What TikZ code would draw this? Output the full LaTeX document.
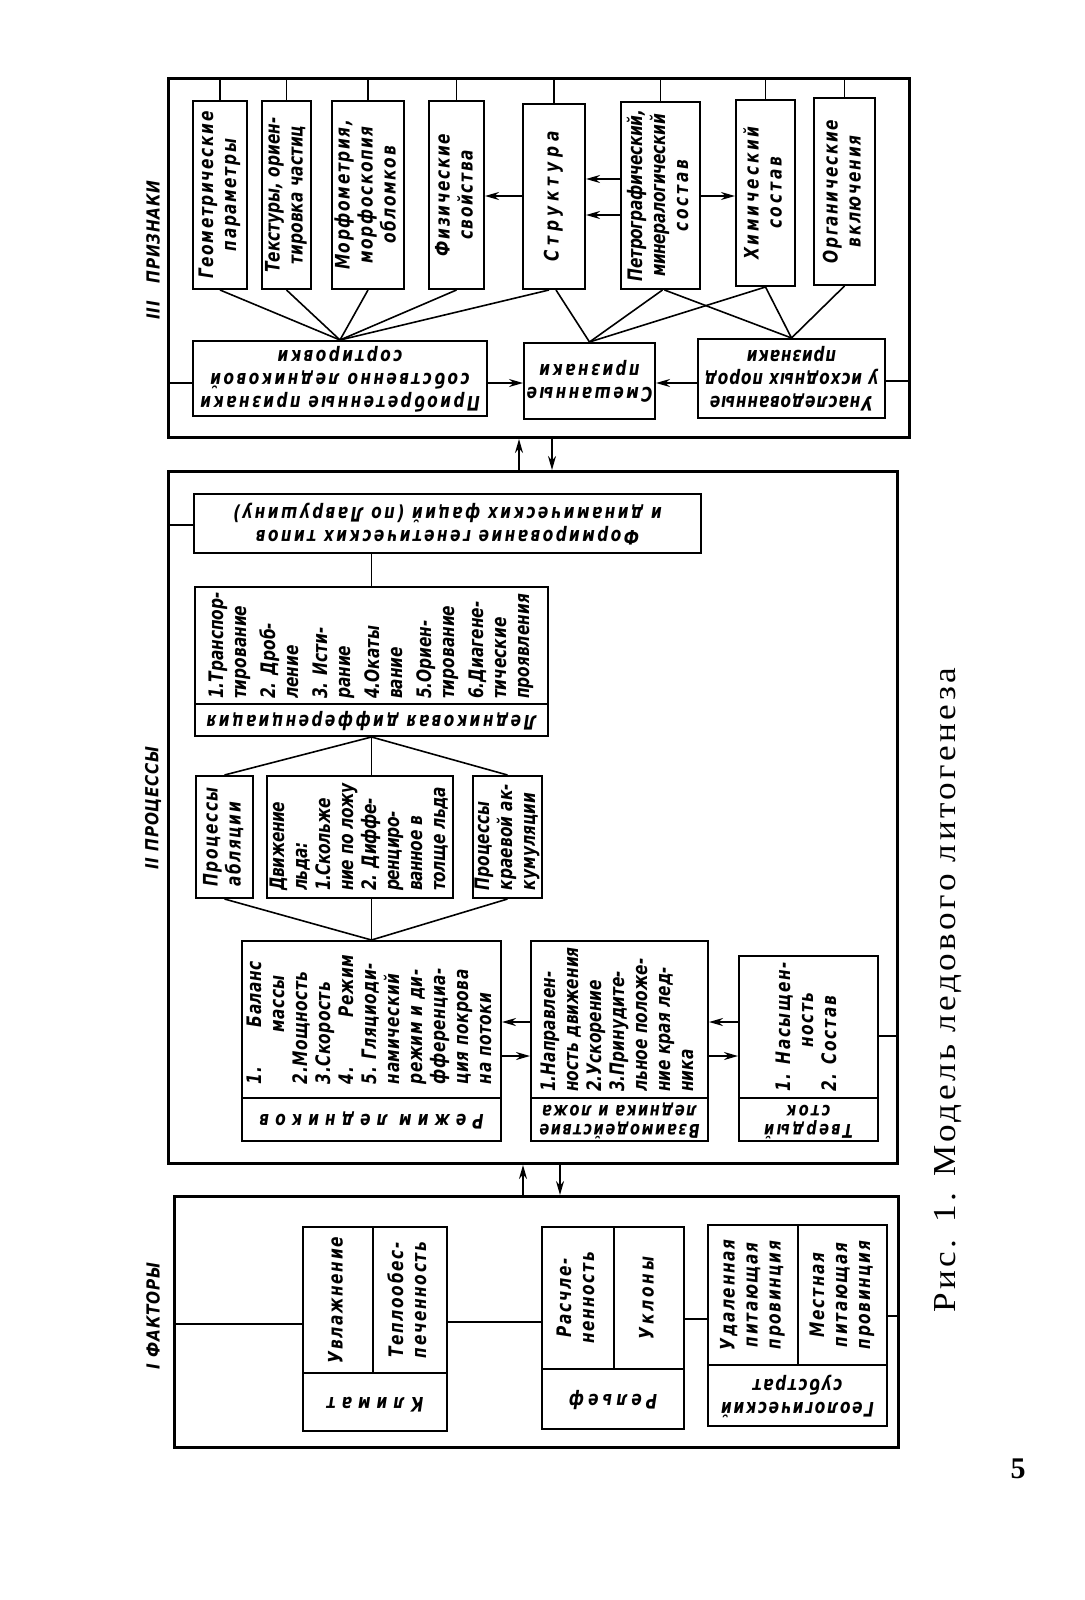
\documentclass[tikz,border=0pt]{standalone}
\usepackage{graphicx}
\usepackage{fontspec}
\setmainfont{Liberation Serif}
\newfontfamily\df{DejaVu Sans}[FakeStretch=0.77, LetterSpace=8]
\newfontfamily\dfb{DejaVu Sans}[FakeStretch=0.85, LetterSpace=4]
\newfontfamily\capfont{Liberation Serif}[FakeStretch=1.1, LetterSpace=11]
\usetikzlibrary{arrows.meta,calc}
\newcommand\vt[1]{\rotatebox{90}{\begin{tabular}{@{}c@{}}#1\end{tabular}}}
\newcommand\vl[1]{\rotatebox{90}{\begin{tabular}{@{}l@{}}#1\end{tabular}}}
\newcommand\ut[1]{\rotatebox{180}{\begin{tabular}{@{}c@{}}#1\end{tabular}}}
\newcommand\ls[1]{\addfontfeature{LetterSpace=#1}}
\tikzset{
  bx/.style={draw, line width=1pt, inner sep=0pt, font=\df\bfseries\itshape\fontsize{10}{11.5}\selectfont},
  sec/.style={draw, line width=1.5pt, inner sep=0pt},
  ln/.style={line width=0.8pt},
  arr/.style={line width=0.9pt, -{Stealth[length=7pt,width=4pt]}},
  seclab/.style={font=\dfb\bfseries\itshape\fontsize{9}{11}\selectfont, inner sep=0pt}
}
\newcommand\mybox[6]{\node[bx, minimum width={(#4-#2)*0.5pt}, minimum height={(#5-#3)*0.5pt}, anchor=north west] (#1) at (#2,#3) {#6};}
\newcommand\mysec[5]{\node[sec, minimum width={(#4-#2)*0.5pt}, minimum height={(#5-#3)*0.5pt}, anchor=north west] (#1) at (#2,#3) {};}
\begin{document}
\begin{tikzpicture}[x=0.5pt,y=-0.5pt]
\fill[white] (0,0) rectangle (1085,1600);
\useasboundingbox (0,0) rectangle (1085,1600);
% ---------- III
\mysec{box3}{167}{77}{908}{436}
\mybox{geo}{192}{100}{246}{288}{\vt{Геометрические\\параметры}}
\mybox{tex}{261}{100}{310}{288}{\ls{0}\vt{Текстуры, ориен-\\тировка частиц}}
\mybox{morf}{331}{100}{403}{288}{\vt{Морфометрия,\\морфоскопия\\обломков}}
\mybox{fiz}{428}{100}{483}{288}{\vt{Физические\\свойства}}
\mybox{str}{522}{103}{584}{288}{\ls{24}\vt{Структура}}
\mybox{petr}{620}{101}{699}{288}{\ls{-2}\vt{Петрографический,\\минералогический\\\ls{14}состав}}
\mybox{chem}{735}{99}{794}{285}{\ls{14}\vt{Химический\\состав}}
\mybox{org}{813}{97}{874}{284}{\vt{Органические\\включения}}
\mybox{acq}{192}{340}{486}{415}{\ls{12}\ut{Приобретенные признаки\\собственно ледниковой\\сортировки}}
\mybox{mix}{523}{342}{654}{418}{\ls{12}\ut{Смешанные\\признаки}}
\mybox{inh}{697}{338}{884}{417}{\ls{4}\ut{Унаследованные\\у исходных пород\\признаки}}
\foreach \n in {geo,tex,morf,fiz,str,petr,chem,org} \draw[ln] (\n.north) -- (\n.north |- box3.north);
\foreach \n in {geo,tex,morf,fiz} \draw[ln] (\n.south) -- (acq.north);
\draw[ln] ($(str.south)+(-5,0)$) -- (acq.north);
\draw[ln] ($(str.south)+(2,0)$) -- (mix.north);
\draw[ln] ($(petr.south)+(2,0)$) -- (mix.north);
\draw[ln] ($(petr.south)+(4,0)$) -- (inh.north);
\draw[ln] (chem.south) -- (mix.north);
\draw[ln] (chem.south) -- (inh.north);
\draw[ln] (org.south) -- (inh.north);
\coordinate (h1) at (0,383);
\coordinate (h1b) at (0,381);
\coordinate (h2) at (0,196);
\coordinate (h3) at (0,179);
\coordinate (h4) at (0,215);
\draw[ln] (h1 -| box3.west) -- (h1 -| acq.west);
\draw[arr] (h1 -| acq.east) -- (h1 -| mix.west);
\draw[arr] (h1 -| inh.west) -- (h1 -| mix.east);
\draw[ln] (h1b -| inh.east) -- (h1b -| box3.east);
\draw[arr] (h2 -| str.west) -- (h2 -| fiz.east);
\draw[arr] (h2 -| petr.east) -- (h2 -| chem.west);
\draw[arr] (h3 -| petr.west) -- (h3 -| str.east);
\draw[arr] (h4 -| petr.west) -- (h4 -| str.east);
% ---------- II
\mysec{box2}{167}{470}{896}{1162}
\coordinate (v1) at (519,0);
\coordinate (v2) at (552,0);
\draw[arr] (v1 |- box2.north) -- (v1 |- box3.south);
\draw[arr] (v2 |- box3.south) -- (v2 |- box2.north);
\mybox{form}{193}{493}{700}{552}{\ls{12}\ut{Формирование генетических типов\\и динамических фаций (по Лаврушину)}}
\coordinate (h5) at (0,525);
\draw[ln] (h5 -| box2.west) -- (h5 -| form.west);
\mybox{ldl}{194}{586}{547}{703}{\ls{0}\vl{1.Транспор-\\тирование\\[3pt]2. Дроб-\\ление\\[3pt]3. Исти-\\рание\\[3pt]4.Окаты\\вание\\[3pt]5.Ориен-\\тирование\\[3pt]6.Диагене-\\тические\\проявления}}
\mybox{ldt}{194}{703}{547}{735}{\ls{12}\ut{Ледниковая дифференциация}}
\draw[ln] (ldl.north) -- (ldl.north |- form.south);
\mybox{abl}{195}{775}{252}{897}{\vl{Процессы\\абляции}}
\mybox{dv}{266}{775}{452}{897}{\ls{-2}\vl{Движение\\льда:\\1.Скольже\\ние по ложу\\2. Диффе-\\ренциро-\\ванное в\\толще льда}}
\mybox{kr}{472}{775}{541}{897}{\ls{0}\vl{Процессы\\краевой ак-\\кумуляции}}
\draw[ln] (ldt.south) -- (abl.north);
\draw[ln] (ldt.south) -- (kr.north);
\draw[ln] (ldt.south) -- (ldt.south |- dv.north);
\mybox{rzl}{241}{940}{500}{1097}{\ls{2}\vl{1.\hspace{2em}Баланс\\\hspace*{2.6em}массы\\2.Мощность\\3.Скорость\\4.\hspace{2.5em}Режим\\5. Гляциоди-\\намический\\режим и ди-\\фференциа-\\ция покрова\\на потоки}}
\mybox{rzt}{241}{1097}{500}{1140}{\ls{30}\ut{Режим ледников}}
\mybox{vzl}{530}{940}{707}{1097}{\ls{0}\vl{1.Направлен-\\ность движения\\2.Ускорение\\3.Принудите-\\льное положе-\\ние края лед-\\ника}}
\mybox{vzt}{530}{1097}{707}{1140}{\fontsize{9.5}{9.5}\selectfont\ut{Взаимодействие\\ледника и ложа}}
\mybox{tvl}{738}{955}{877}{1097}{\vl{1. Насыщен-\\\hspace*{2.2em}ность\\2. Состав}}
\mybox{tvt}{738}{1097}{877}{1140}{\ls{12}\fontsize{9.5}{9.8}\selectfont\ut{Твердый\\сток}}
\draw[ln] (abl.south) -- (rzl.north);
\draw[ln] (kr.south) -- (rzl.north);
\draw[ln] (rzl.north) -- (rzl.north |- dv.south);
\coordinate (h6) at (0,1022);
\coordinate (h7) at (0,1056);
\coordinate (h8) at (0,1036);
\draw[arr] (h6 -| vzl.west) -- (h6 -| rzl.east);
\draw[arr] (h7 -| rzl.east) -- (h7 -| vzl.west);
\draw[arr] (h6 -| tvl.west) -- (h6 -| vzl.east);
\draw[arr] (h7 -| vzl.east) -- (h7 -| tvl.west);
\draw[ln] (h8 -| tvl.east) -- (h8 -| box2.east);
% ---------- I
\mysec{box1}{173}{1195}{897}{1446}
\coordinate (v3) at (523,0);
\coordinate (v4) at (560,0);
\draw[arr] (v3 |- box1.north) -- (v3 |- box2.south);
\draw[arr] (v4 |- box2.south) -- (v4 |- box1.north);
\mybox{uvl}{302}{1226}{372}{1372}{\vt{Увлажнение}}
\mybox{tep}{372}{1226}{446}{1372}{\vt{Теплообес-\\печенность}}
\mybox{klm}{302}{1372}{446}{1430}{\ls{30}\ut{Климат}}
\mybox{ras}{541}{1226}{613}{1368}{\vt{Расчле-\\ненность}}
\mybox{ukl}{613}{1226}{683}{1368}{\ls{14}\vt{Уклоны}}
\mybox{rel}{541}{1368}{683}{1428}{\ls{20}\ut{Рельеф}}
\mybox{udl}{707}{1224}{797}{1364}{\vt{Удаленная\\питающая\\провинция}}
\mybox{mst}{797}{1224}{886}{1364}{\vt{Местная\\питающая\\провинция}}
\mybox{geol}{707}{1364}{886}{1425}{\ls{8}\ut{Геологический\\субстрат}}
\coordinate (h9) at (0,1324);
\coordinate (h10) at (0,1322);
\coordinate (h11) at (0,1319);
\coordinate (h12) at (0,1316);
\draw[ln] (h9 -| box1.west) -- (h9 -| uvl.west);
\draw[ln] (h10 -| tep.east) -- (h10 -| ras.west);
\draw[ln] (h11 -| ukl.east) -- (h11 -| udl.west);
\draw[ln] (h12 -| mst.east) -- (h12 -| box1.east);
% ---------- labels
\node[seclab, rotate=90] (l3) at (153,250) {III\quad ПРИЗНАКИ};
\node[seclab, rotate=90] (l2) at (153,808) {II ПРОЦЕССЫ};
\node[seclab, rotate=90] (l1) at (153,1316) {I ФАКТОРЫ};
\node[rotate=90, inner sep=0pt, font=\capfont\fontsize{16}{18}\selectfont] (cap) at (948,990) {Рис. 1. Модель ледового литогенеза};
\node[inner sep=0pt, font=\bfseries\fontsize{15}{18}\selectfont] (pg) at (1018,1469) {5};
\end{tikzpicture}
\end{document}
